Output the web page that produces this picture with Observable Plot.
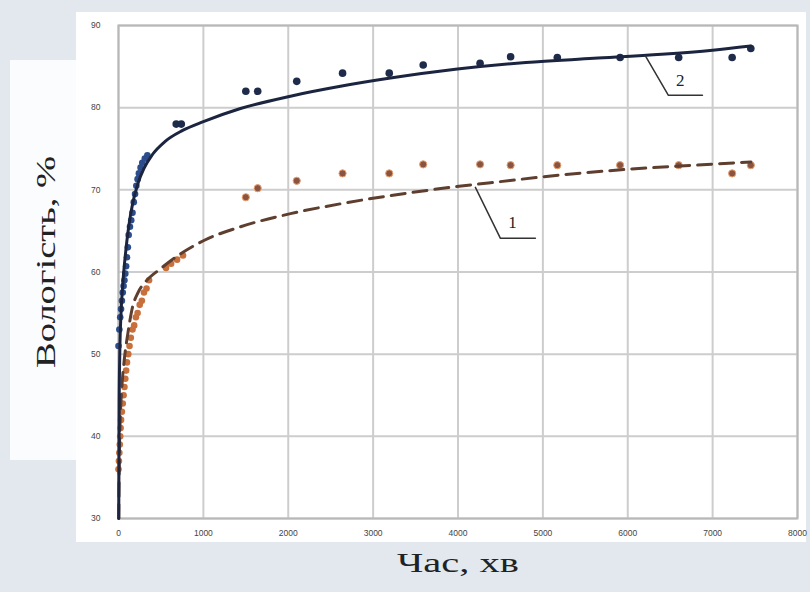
<!DOCTYPE html>
<html>
<head>
<meta charset="utf-8">
<script src="https://cdn.jsdelivr.net/npm/d3@7"></script>
<script src="https://cdn.jsdelivr.net/npm/@observablehq/plot@0.6"></script>
<style>
  html, body { margin: 0; padding: 0; }
  body { width: 810px; height: 592px; background: #e2e8ee; position: relative; overflow: hidden; }
  #panel { position: absolute; left: 76px; top: 12px; width: 730px; height: 530px; background: #ffffff; }
  #panel2 { position: absolute; left: 10px; top: 60px; width: 70px; height: 400px; background: #fbfcfd; }
  #chart { position: absolute; left: 0; top: 0; }
</style>
</head>
<body>
<div id="panel2"></div>
<div id="panel"></div>
<div id="chart"></div>
<script>
// Tick values
const xTicks = [0, 1000, 2000, 3000, 4000, 5000, 6000, 7000, 8000];
const yTicks = [30, 40, 50, 60, 70, 80, 90];

// Series 2 (blue points) – time, min / moisture, %
const blueEarlyX = [0, 10, 20, 30, 40, 50, 60, 70, 80, 90, 100, 110, 120, 135, 150, 165, 180, 195, 210, 225, 240, 260, 280, 310, 340];
const blueEarlyY = [51, 53, 54.5, 55.5, 56.5, 57.5, 58.3, 59, 59.8, 60.7, 61.8, 63, 64.5, 65.5, 66.3, 67.2, 68.5, 69.5, 70.5, 71.3, 72, 72.7, 73.3, 73.8, 74.2];
const blueLateX = [680, 740, 1500, 1640, 2100, 2640, 3190, 3590, 4260, 4620, 5170, 5910, 6600, 7230, 7450];
const blueLateY = [78, 78, 82, 82, 83.2, 84.2, 84.2, 85.2, 85.4, 86.2, 86.1, 86.1, 86.1, 86.1, 87.2];

// Series 1 (orange points)
const orangeEarlyX = [0, 5, 10, 15, 20, 25, 30, 40, 50, 60, 70, 80, 90, 100, 115, 130, 145, 165, 185, 205, 225, 250, 275, 300, 330, 360, 560, 620, 690, 760];
const orangeEarlyY = [36, 37, 38, 39, 40, 41, 42, 43, 44, 45, 46, 47, 48, 49, 50, 51, 52, 53, 53.5, 54.5, 55, 56, 56.5, 57.5, 58, 59, 60.5, 61, 61.5, 62];
const orangeLateX = [1500, 1640, 2100, 2640, 3190, 3590, 4260, 4620, 5170, 5910, 6600, 7230, 7450];
const orangeLateY = [69.1, 70.2, 71.1, 72, 72, 73.1, 73.1, 73, 73, 73, 73, 72, 73];

// Trend curve 2 (solid)
const trend2X = [3, 8, 15, 30, 50, 80, 120, 170, 230, 300, 400, 550, 750, 1000, 1437, 2026, 2615, 3204, 3993, 4800, 5600, 6400, 7000, 7450];
const trend2Y = [30, 44, 50, 55, 58.5, 62, 65.5, 68.5, 70.8, 72.6, 74.3, 75.9, 77.2, 78.3, 79.9, 81.4, 82.6, 83.6, 84.7, 85.5, 86, 86.5, 87, 87.5];

// Trend curve 1 (dashed)
const trend1X = [3, 10, 20, 40, 70, 110, 160, 230, 318, 495, 700, 1000, 1437, 2026, 2615, 3204, 3911, 4500, 5200, 6000, 6800, 7450];
const trend1Y = [30, 38, 42, 46, 49.5, 52.5, 55.5, 57.5, 58.8, 60.4, 62, 63.8, 65.5, 67.1, 68.3, 69.3, 70.3, 71, 71.8, 72.5, 73, 73.4];

// Curve labels and leader lines (data units)
const labelText = ["1", "2"];
const labelX = [4641, 6620];
const labelY = [66.0, 83.3];
const leader1X = [4205, 4500, 4912];
const leader1Y = [70.3, 64.1, 64.1];
const leader2X = [6208, 6479, 6880];
const leader2Y = [86.3, 81.5, 81.5];

const zip = (xs, ys) => xs.map((x, i) => ({x, y: ys[i]}));
const blueEarly = zip(blueEarlyX, blueEarlyY);
const blueLate = zip(blueLateX, blueLateY);
const orangeEarly = zip(orangeEarlyX, orangeEarlyY);
const orangeLate = zip(orangeLateX, orangeLateY);
const trend2 = zip(trend2X, trend2Y);
const trend1 = zip(trend1X, trend1Y);
const leader1 = zip(leader1X, leader1Y);
const leader2 = zip(leader2X, leader2Y);
const labels = labelText.map((t, i) => ({t, x: labelX[i], y: labelY[i]}));

const chart = Plot.plot({
  width: 810,
  height: 592,
  marginLeft: 118,
  marginRight: 13,
  marginTop: 25,
  marginBottom: 74,
  style: {background: "transparent", fontFamily: "Liberation Sans, Arial, sans-serif"},
  x: {domain: [0, 8000]},
  y: {domain: [30, 90]},
  marks: [
    Plot.gridX(xTicks, {stroke: "#cdcdcd", strokeOpacity: 1, strokeWidth: 2}),
    Plot.gridY(yTicks, {stroke: "#cdcdcd", strokeOpacity: 1, strokeWidth: 2}),
    Plot.frame({stroke: "#b8b8b8", strokeWidth: 2}),
    Plot.axisX(xTicks, {tickSize: 0, tickPadding: 11, fontSize: 8.5, fill: "#444", label: null, tickFormat: d3.format("d")}),
    Plot.axisY(yTicks, {tickSize: 0, tickPadding: 18, fontSize: 8.5, fill: "#444", label: null, tickFormat: d3.format("d")}),
    Plot.dot(orangeEarly, {x: "x", y: "y", r: 3.3, fill: "#c8703c"}),
    Plot.dot(blueEarly, {x: "x", y: "y", r: 3.3, fill: "#2c4d8c"}),
    Plot.dot(orangeLate, {x: "x", y: "y", r: 3.6, fill: "#8a5440", stroke: "#e8a070", strokeWidth: 1}),
    Plot.dot(blueLate, {x: "x", y: "y", r: 3.8, fill: "#1f2b4a"}),
    Plot.line(trend1, {x: "x", y: "y", curve: "monotone-x", stroke: "#5e3e2e", strokeWidth: 3, strokeDasharray: "14,8"}),
    Plot.line(trend2, {x: "x", y: "y", curve: "monotone-x", stroke: "#1c2540", strokeWidth: 3}),
    Plot.line(leader1, {x: "x", y: "y", stroke: "#333", strokeWidth: 1.5}),
    Plot.line(leader2, {x: "x", y: "y", stroke: "#333", strokeWidth: 1.5}),
    Plot.text(labels, {x: "x", y: "y", text: "t", fontSize: 17, fontFamily: "Liberation Serif", fill: "#222"}),
    Plot.text(["Час, хв"], {frameAnchor: "bottom", dy: 53, fontSize: 28, fontFamily: "Liberation Serif", fill: "#222", className: "xlab"}),
    Plot.text(["Вологість, %"], {frameAnchor: "left", textAnchor: "middle", rotate: -90, dx: -72, dy: -10, fontSize: 28, fontFamily: "Liberation Serif", fill: "#222", className: "ylab"})
  ]
});
document.getElementById("chart").appendChild(chart);
chart.querySelectorAll(".xlab text").forEach(t => { t.setAttribute("textLength", 122); t.setAttribute("lengthAdjust", "spacingAndGlyphs"); });
chart.querySelectorAll(".ylab text").forEach(t => { t.setAttribute("textLength", 212); t.setAttribute("lengthAdjust", "spacingAndGlyphs"); });
</script>
</body>
</html>
